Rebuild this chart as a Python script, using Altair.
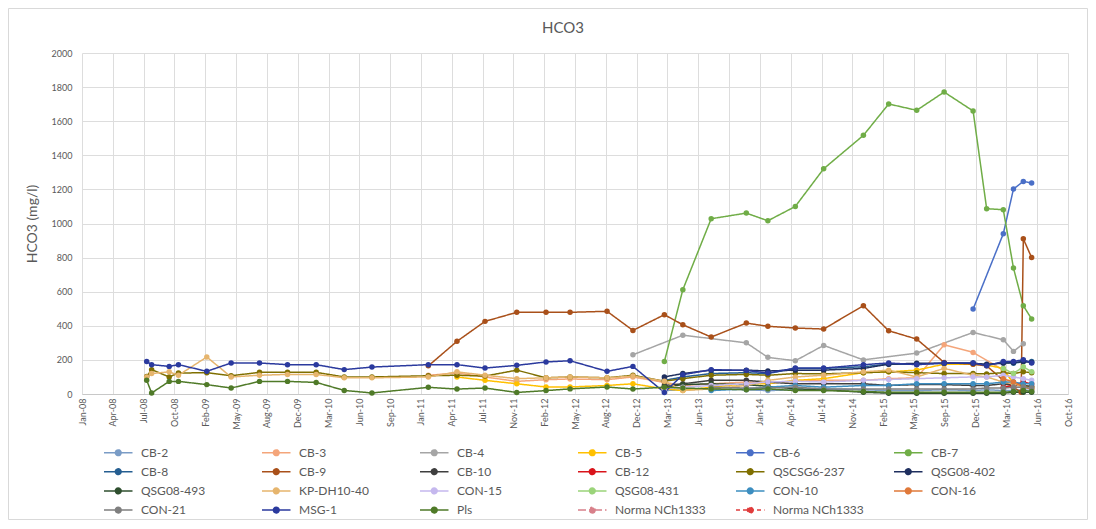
import altair as alt
import pandas as pd

N = None

# sampling campaign dates
DATES = [
    "2008-07-29", "2008-08-14", "2008-10-10", "2008-11-09", "2009-02-09",
    "2009-04-29", "2009-07-30", "2009-10-29", "2010-01-30", "2010-05-01",
    "2010-07-30", "2011-01-29", "2011-05-02", "2011-08-01", "2011-11-12",
    "2012-02-15", "2012-05-03", "2012-08-31", "2012-11-23", "2013-03-05",
    "2013-05-04", "2013-08-04", "2013-11-26", "2014-02-04", "2014-05-04",
    "2014-08-04", "2014-12-11", "2015-03-03", "2015-06-02", "2015-08-30",
    "2015-12-02", "2016-01-15", "2016-03-09", "2016-04-11", "2016-05-06",
    "2016-05-13", "2016-06-09",
]

CB_2 = [N] * 19 + [20, 25, 30, 25, 20, 25, 30, 25, 20, 20, 25,
                   20, 25, 20, 20, N, 25, 20]
CB_3 = [N] * 11 + [110, 123, 100, 74, 84, 88, 84, 100, 68,
                   50, 60, 70, 65, 75, 80, 80, 90, 95, 289,
                   244, N, 140, 70, N, 50, 40]
CB_4 = [N] * 18 + [230, N, 345, N, 300, 215, 195, 285, 200, N,
                   240, N, 361, N, 318, 250, N, 295, N]
CB_5 = [N] * 12 + [100, 80, 60, 41, 41, 50, 60, 30,
                   20, 40, 60, 60, 80, 90, 125, 130, 140, 175,
                   175, 170, 150, 60, N, 50, 40]
CB_6 = [N] * 30 + [498, N, 940, 1202, N, 1247, 1237]
CB_7 = [N] * 19 + [190, 612, 1028, 1061, 1016, 1100, 1321, 1517, 1701, 1664, 1771,
                   1660, 1087, 1081, 739, N, 518, 440]
CB_8 = [N] * 19 + [80, 100, 120, 125, 120, 150, 150, 160, 175, 175, 180,
                   180, 170, 185, 180, N, 190, 190]
CB_9 = [N] * 11 + [165, 309, 426, 479, 479, 479, 485, 373, 465,
                   406, 334, 416, 397, 387, 381, 518, 371, 322, 185,
                   175, 165, 80, 40, 10, 910, 800]
CB_10 = [N] * 19 + [50, 60, 80, 80, 70, 60, 60, 60, 50, 55, 55,
                    50, 50, 60, 50, N, 50, 45]
CB_12 = [N] * 32 + [40, 50, N, 70, 60]
QSCSG6_237 = [103, 143, 100, 123, 125, 107, 127, 127, 127, 100,
              100, 107, 110, 105, 140, 95, 100, 95, 110, 75,
              90, 110, 115, 110, 120, 118, 125, 130, 125, 120,
              120, 118, 125, 120, N, 130, 125]
QSG08_402 = [N] * 19 + [100, 120, 140, 140, 135, 140, 140, 150, 175, 180, 180,
                        180, 175, 180, 185, N, 190, 185]
QSG08_493 = [N] * 19 + [40, 55, 60, 55, 45, 30, 25, 10, 5, 5, 5,
                        5, 5, 5, 10, N, 10, 10]
KP_DH10_40 = [100, 120, 130, 110, 217, 100, 110, 115, 115, 95,
              95, 100, 130, 110, 90, 95, 100, 95, 105, 75,
              20, 30, 50, 80, 100, 110, 130, 140, 100, 150,
              110, 100, 70, 60, N, 40, 30]
CON_15 = [N] * 19 + [30, 40, 50, 60, 70, 75, 70, 80, 85, 90, 95,
                     100, 100, 110, 100, N, 90, 80]
QSG08_431 = [N] * 32 + [150, 120, N, 160, 130]
CON_10 = [N] * 21 + [20, 30, 40, 50, 40, 50, 50, 60, 60,
                     60, 60, 70, 70, N, 60, 60]
CON_16 = [N] * 32 + [90, 70, N, 40, 30]
CON_21 = [N] * 21 + [40, 35, 35, 40, 30, 30, 30, 30, 30,
                     30, 35, 35, 40, N, 40, 35]
MSG_1 = [191, 172, 162, 172, 133, 182, 182, 172, 172, 143,
         158, 172, 172, 152, 168, 188, 195, 133, 162, 9,
         113, 143, 138, 123, 152, 152, 172, 182, 172, 182,
         182, 166, 191, 191, N, 201, 182]
PLS = [80, 6, 74, 74, 55, 35, 74, 74, 68, 21,
       6, 39, 29, 35, 9, 20, 30, 41, 29, 40,
       35, 30, 25, 30, 20, 20, 15, 10, 10, 10,
       10, 10, 10, 15, N, 20, 15]
NORMA_1 = [N] * 37
NORMA_2 = [N] * 37

SERIES = ["CB-2", "CB-3", "CB-4", "CB-5", "CB-6", "CB-7",
          "CB-8", "CB-9", "CB-10", "CB-12", "QSCSG6-237", "QSG08-402",
          "QSG08-493", "KP-DH10-40", "CON-15", "QSG08-431", "CON-10", "CON-16",
          "CON-21", "MSG-1", "Pls", "Norma NCh1333", "Norma NCh1333 "]
VALUES = [CB_2, CB_3, CB_4, CB_5, CB_6, CB_7,
          CB_8, CB_9, CB_10, CB_12, QSCSG6_237, QSG08_402,
          QSG08_493, KP_DH10_40, CON_15, QSG08_431, CON_10, CON_16,
          CON_21, MSG_1, PLS, NORMA_1, NORMA_2]
COLORS = ["#7A9CC6", "#F4A57A", "#A5A5A5", "#FFC000", "#4A6FC7", "#70AD47",
          "#255E91", "#A9501A", "#3F3F3F", "#D9141B", "#7F6F00", "#1F2F5F",
          "#2F4F2F", "#E6B56E", "#C5B8EE", "#9BD47A", "#3D8EC0", "#E0793A",
          "#7F7F7F", "#2B3A9E", "#4F7A28", "#D8808A", "#E03C3C"]
DASHES = [[1, 0]] * 21 + [[8, 3, 2, 3], [4, 3]]

Y_TICKS = [0, 200, 400, 600, 800, 1000, 1200, 1400, 1600, 1800, 2000]

for v in VALUES:
    assert len(v) == len(DATES)

rows = []
for name, vals in zip(SERIES, VALUES):
    for d, v in zip(DATES, vals):
        if v is not None:
            rows.append({"series": name,
                         "t": int(pd.Timestamp(d).value // 10**6),
                         "v": v})
df = pd.DataFrame(rows)

origin = pd.Timestamp("2008-01-01")
x_ticks = [int((origin + pd.Timedelta(days=100 * k)).value // 10**6) for k in range(33)]
x_dom = [x_ticks[0], x_ticks[-1]]

GRID = "#DDDDDD"
TXT = "#595959"
FONT = "Lato"

SYMBOL = ("M-1,0L2,0"
          "M0.8,0A0.3,0.3,0,1,1,0.2,0A0.3,0.3,0,1,1,0.8,0"
          "M0.7,0A0.2,0.2,0,1,1,0.3,0A0.2,0.2,0,1,1,0.7,0"
          "M0.6,0A0.1,0.1,0,1,1,0.4,0A0.1,0.1,0,1,1,0.6,0")

legend = alt.Legend(
    title=None, orient="none", legendX=21, legendY=389,
    direction="horizontal", columns=6, gridAlign="all",
    columnPadding=27, rowPadding=2.2, padding=0,
    symbolType=SYMBOL, symbolSize=361, symbolStrokeWidth=1.5,
    labelOffset=17, labelFont=FONT, labelFontSize=12, labelColor=TXT,
    labelLimit=200, symbolLimit=50,
)

base = alt.Chart(df).encode(
    x=alt.X("t:T",
            scale=alt.Scale(type="utc", domain=x_dom),
            axis=alt.Axis(values=x_ticks, format="%b-%y", labelAngle=270,
                          title=None, grid=True, gridColor=GRID,
                          domainColor="#C8C8C8", ticks=False,
                          labelFont=FONT, labelFontSize=9, labelColor=TXT,
                          labelPadding=4)),
    y=alt.Y("v:Q",
            scale=alt.Scale(domain=[0, 2000]),
            axis=alt.Axis(values=Y_TICKS, format="d", title="HCO3 (mg/l)",
                          grid=True, gridColor=GRID, domain=False, ticks=False,
                          labelFont=FONT, labelFontSize=9, labelColor=TXT,
                          labelPadding=10, titleFont=FONT, titleFontSize=14,
                          titleColor=TXT, titleFontWeight="normal",
                          titlePadding=12)),
    color=alt.Color("series:N", scale=alt.Scale(domain=SERIES, range=COLORS),
                    legend=legend),
    strokeDash=alt.StrokeDash("series:N",
                              scale=alt.Scale(domain=SERIES, range=DASHES),
                              legend=legend),
)

lines = base.mark_line(strokeWidth=1.5)
points = base.mark_point(filled=True, size=30, opacity=1)

# chart-area frame (decoration)
frame = alt.Chart(pd.DataFrame({"f": [0]})).mark_rect(
    fill="transparent", stroke="#D9D9D9", strokeWidth=1, clip=False
).encode(
    x=alt.value(-73.5), x2=alt.value(1005.5),
    y=alt.value(-44.5), y2=alt.value(466.5),
)

chart = alt.layer(frame, lines, points).properties(
    width=986, height=341,
    title=alt.TitleParams("HCO3", font=FONT, fontSize=15, color=TXT,
                          fontWeight="normal", offset=0, dy=28,
                          anchor="middle", dx=-12),
    padding={"left": 74, "top": 45, "right": 20, "bottom": 126},
    autosize=alt.AutoSizeParams(type="none"),
).configure_view(stroke="transparent")

chart.save("out.html", embed_options={"renderer": "svg", "actions": False})
